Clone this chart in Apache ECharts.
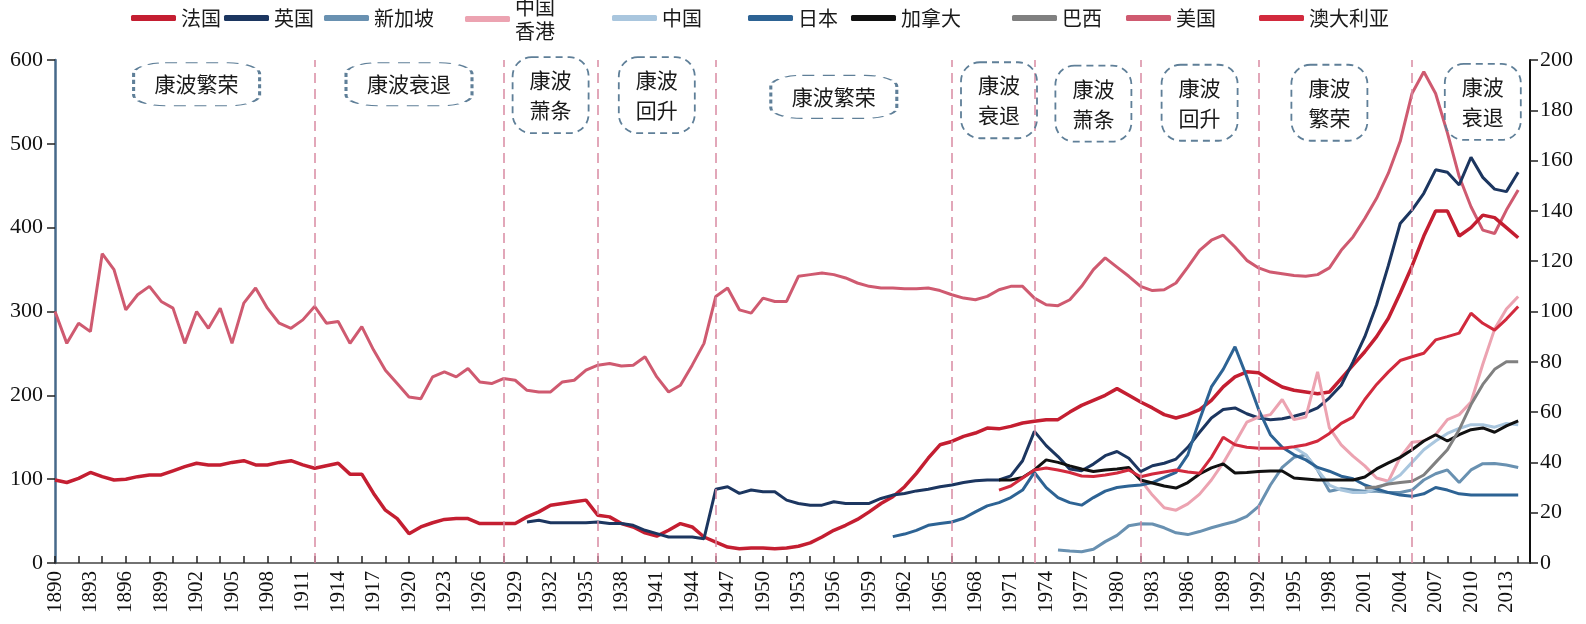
<!DOCTYPE html>
<html>
<head>
<meta charset="utf-8">
<title>康波周期与各国房价</title>
<script src="https://cdn.jsdelivr.net/npm/echarts/dist/echarts.min.js"></script>
<style>
	html, body { margin: 0; padding: 0; background: #fff; }
	#chart { width: 1586px; height: 624px; }
</style>
</head>
<body>
<div id="chart"></div>
<script>
// 年份 1890 - 2015
var years = [];
for (var y = 1890; y <= 2015; y++) {
	years.push(String(y));
}

// 左轴 (1890 - 2014)
var usValues = [
	300, 262, 286, 276, 369, 350, 302, 320, 330, 312,
	304, 262, 300, 280, 304, 262, 310, 328, 304, 286,
	280, 290, 306, 286, 288, 262, 282, 254, 230, 214,
	198, 196, 222, 228, 222, 232, 216, 214, 220, 218,
	206, 204, 204, 216, 218, 230, 236, 238, 235, 236,
	246, 222, 204, 212, 236, 262, 318, 328, 302, 298,
	316, 312, 312, 342, 344, 346, 344, 340, 334, 330,
	328, 328, 327, 327, 328, 325, 320, 316, 314, 318,
	326, 330, 330, 316, 308, 307, 314, 330, 350, 364,
	353, 342, 330, 325, 326, 334, 353, 373, 385, 391,
	377, 361, 352, 347, 345, 343, 342, 344, 352, 373,
	389, 411, 435, 465, 503, 560, 586, 560, 513, 461,
	425, 397, 393, 421, 445
];
var franceValues = [
	99, 96, 101, 108, 103, 99, 100, 103, 105, 105,
	110, 115, 119, 117, 117, 120, 122, 117, 117, 120,
	122, 117, 113, 116, 119, 106, 106, 83, 63, 53,
	35, 43, 48, 52, 53, 53, 47, 47, 47, 47,
	55, 61, 69, 71, 73, 75, 57, 55, 47, 43,
	36, 32, 39, 47, 43, 31, 25, 19, 17, 18,
	18, 17, 18, 20, 24, 31, 39, 45, 52, 61,
	71, 79, 91, 107, 125, 141, 145, 151, 155, 161,
	160, 163, 167, 169, 171, 171, 180, 188, 194, 200,
	208, 200, 192, 185, 177, 173, 177, 183, 194, 210,
	222, 228, 227, 218, 210, 206, 204, 202, 204, 220,
	236, 252, 270, 292, 322, 354, 390, 420, 420, 390,
	400, 415, 412, 400, 388
];
var ukStart = 1930;
var ukValues = [
	49, 51, 48, 48, 48, 48, 49, 47, 47, 45,
	39, 35, 31, 31, 31, 29, 88, 91, 83, 87,
	85, 85, 75, 71, 69, 69, 73, 71, 71, 71,
	77, 81, 83, 86, 88, 91, 93, 96, 98, 99,
	99, 104, 122, 157, 140, 127, 112, 110, 118, 128,
	133, 125, 109, 116, 119, 124, 138, 156, 173, 183,
	185, 178, 173, 171, 172, 175, 179, 185, 197, 212,
	240, 270, 308, 355, 405, 421, 441, 469, 466, 451,
	484, 460, 446, 443, 466
];

// 右轴
var japanStart = 1961;
var japanValues = [
	10.5, 11.5, 13, 15, 15.7, 16.3, 17.8, 20.3, 22.7,
	24, 26, 29, 36, 30, 26, 24, 23, 26, 28.6,
	30, 30.6, 31, 32, 34, 36, 43, 57, 70, 77,
	86, 74, 61, 51, 46, 43, 41, 38, 36.5, 34.5,
	33.5, 31, 29.5, 28, 27, 26.5, 27.5, 30, 29, 27.5,
	27, 27, 27, 27, 27
];
var canadaStart = 1970;
var canadaValues = [
	33, 33, 34, 37, 41, 40, 38.6, 37.4, 36.4, 37,
	37.4, 38, 33, 31.8, 30.6, 29.8, 32, 35.4, 37.8, 39.4,
	35.8, 36, 36.4, 36.6, 36.6, 33.8, 33.4, 33, 33, 33,
	33, 34.2, 37.4, 39.8, 42, 45, 48.5, 51, 48.5, 51,
	53, 53.7, 52, 54.5, 56.5
];
var australiaStart = 1970;
var australiaValues = [
	29, 30.6, 33.8, 37, 37.8, 37, 36, 34.6, 34.4, 35,
	35.8, 37, 34.3, 35.4, 36.2, 37, 36.2, 35.7, 42, 50,
	47, 46, 45.6, 45.6, 45.6, 46.2, 47, 48.5, 51.5, 55.5,
	58, 65, 71, 76, 80.5, 82, 83.4, 88.7, 90, 91.4,
	99.3, 95.3, 92.6, 97, 102
];
var singaporeStart = 1975;
var singaporeValues = [
	5.2, 4.8, 4.5, 5.5, 8.5,
	11, 14.8, 15.6, 15.5, 14, 12, 11.3, 12.5, 14, 15.3,
	16.5, 18.5, 22.5, 31, 38, 42, 43, 37, 28.5, 29.5,
	29, 28.5, 28.5, 28, 28, 29, 33, 35.5, 37, 32,
	37, 39.5, 39.6, 39, 38
];
var hongkongStart = 1982;
var hongkongValues = [
	33, 27, 22, 21, 23.5, 27.4, 33, 39.8,
	47.7, 56, 58, 59, 65, 57, 58, 76, 53.7, 47,
	42.5, 38.6, 33.8, 32.5, 42, 48, 48.5, 51, 57, 59,
	64, 79, 93, 101, 106
];
var chinaStart = 1995;
var chinaValues = [
	46, 43, 37, 31, 29,
	28, 28, 29.5, 32, 35, 40, 45, 48.5, 51.5, 53.5,
	55, 55, 54, 55.5, 55
];
var brazilStart = 2001;
var brazilValues = [
	29.8, 30.2, 31.4, 32, 32.5, 35, 40, 45, 53,
	63, 71, 77, 80, 80
];

// 康波分界线与阶段标注
var waveLines = ["1912", "1928", "1936", "1946", "1966", "1973", "1982", "1992", "2005"];
var waveLabels = ["康波繁荣", "康波衰退", "康波\n萧条", "康波\n回升", "康波繁荣", "康波\n衰退", "康波\n萧条", "康波\n回升", "康波\n繁荣", "康波\n衰退"];
var waveLabelYears = ["1902", "1920", "1932", "1941", "1956", "1970", "1978", "1987", "1998", "2011"];
var waveLabelLevels = [571, 571, 558, 558, 556, 552, 548, 549, 549, 550];

var seriesNames = ["法国", "英国", "新加坡", "中国香港", "中国", "日本", "加拿大", "巴西", "美国", "澳大利亚"];
var legendLeft = [126, 219, 319, 460, 607, 743, 846, 1007, 1121, 1254];

function pad(start, values) {
	var out = [];
	for (var i = 1890; i < start; i++) {
		out.push(null);
	}
	return out.concat(values);
}

var chart = echarts.init(document.getElementById("chart"));

var serifFont = "Liberation Serif";
var cjkFont = "Noto Sans CJK SC";

function lineSeries(name, data, color, axis, width) {
	return {
		name: name,
		type: "line",
		yAxisIndex: axis,
		data: data,
		symbol: "none",
		showSymbol: false,
		animation: false,
		lineStyle: {
			color: color,
			width: width || 3
		},
		itemStyle: {
			color: color
		}
	};
}

var france = lineSeries("法国", pad(1890, franceValues), "#c41e31", 0, 3.5);
france.markPoint = {
	silent: true,
	animation: false,
	symbol: "roundRect",
	itemStyle: {
		color: "rgba(255,255,255,0)",
		borderColor: "#5f7f98",
		borderWidth: 1.8,
		borderType: [7, 5]
	},
	label: {
		show: true,
		position: "inside",
		formatter: "{b}",
		color: "#1a1a1a",
		fontFamily: cjkFont,
		fontSize: 21,
		lineHeight: 30
	},
	data: waveLabels.map(function (text, i) {
		var twoLines = text.indexOf("\n") >= 0;
		return {
			name: text,
			coord: [waveLabelYears[i], waveLabelLevels[i]],
			symbolSize: twoLines ? [76, 76] : [126, 43]
		};
	})
};

var us = lineSeries("美国", pad(1890, usValues), "#cf5a70", 0);
us.markLine = {
	silent: true,
	animation: false,
	symbol: ["none", "none"],
	label: { show: false },
	lineStyle: {
		color: "#d98ba3",
		type: [10, 6],
		width: 1.5
	},
	data: waveLines.map(function (y) {
		return { xAxis: y };
	})
};

var series = [
	us,
	france,
	lineSeries("英国", pad(ukStart, ukValues), "#1c3660", 0),
	lineSeries("新加坡", pad(singaporeStart, singaporeValues), "#6991b1", 1),
	lineSeries("中国香港", pad(hongkongStart, hongkongValues), "#eca3b1", 1),
	lineSeries("中国", pad(chinaStart, chinaValues), "#a9c6de", 1),
	lineSeries("日本", pad(japanStart, japanValues), "#2d6394", 1),
	lineSeries("加拿大", pad(canadaStart, canadaValues), "#111111", 1),
	lineSeries("巴西", pad(brazilStart, brazilValues), "#808080", 1),
	lineSeries("澳大利亚", pad(australiaStart, australiaValues), "#d22a3d", 1)
];

// 每个图例单独定位
var legends = seriesNames.map(function (name, i) {
	var hk = name == "中国香港";
	return {
		data: [name],
		left: legendLeft[i],
		top: hk ? -22 : 1,
		icon: "roundRect",
		itemWidth: 45,
		itemHeight: 6,
		itemGap: 0,
		formatter: function (n) {
			return n == "中国香港" ? "中国\n香港" : n;
		},
		textStyle: {
			fontFamily: cjkFont,
			fontSize: 20,
			color: "#1a1a1a",
			lineHeight: 24,
			padding: hk ? [24, 0, 0, 0] : 0
		}
	};
});

var option = {
	backgroundColor: "#fff",
	animation: false,
	legend: legends,
	grid: {
		left: 55,
		right: 56,
		top: 60,
		bottom: 61,
		containLabel: false
	},
	xAxis: {
		type: "category",
		data: years,
		boundaryGap: false,
		axisLine: {
			lineStyle: { color: "#444", width: 1.5 }
		},
		axisTick: {
			inside: true,
			interval: 1,
			length: 7,
			lineStyle: { color: "#222", width: 1.5 }
		},
		axisLabel: {
			interval: 2,
			rotate: 90,
			margin: 8,
			fontFamily: serifFont,
			fontSize: 21,
			color: "#111"
		},
		splitLine: { show: false }
	},
	yAxis: [
		{
			type: "value",
			min: 0,
			max: 600,
			interval: 100,
			axisLine: {
				show: true,
				lineStyle: { color: "#46698a", width: 2.5 }
			},
			axisTick: {
				show: true,
				length: 8,
				lineStyle: { color: "#222", width: 1.5 }
			},
			axisLabel: {
				margin: 12,
				fontFamily: serifFont,
				fontSize: 22,
				color: "#111"
			},
			splitLine: { show: false }
		},
		{
			type: "value",
			min: 0,
			max: 200,
			interval: 20,
			position: "right",
			axisLine: {
				show: true,
				lineStyle: { color: "#111", width: 2 }
			},
			axisTick: {
				show: true,
				length: 8,
				lineStyle: { color: "#222", width: 1.5 }
			},
			axisLabel: {
				margin: 10,
				fontFamily: serifFont,
				fontSize: 22,
				color: "#111"
			},
			splitLine: { show: false }
		}
	],
	series: series
};

chart.setOption(option);
</script>
</body>
</html>
